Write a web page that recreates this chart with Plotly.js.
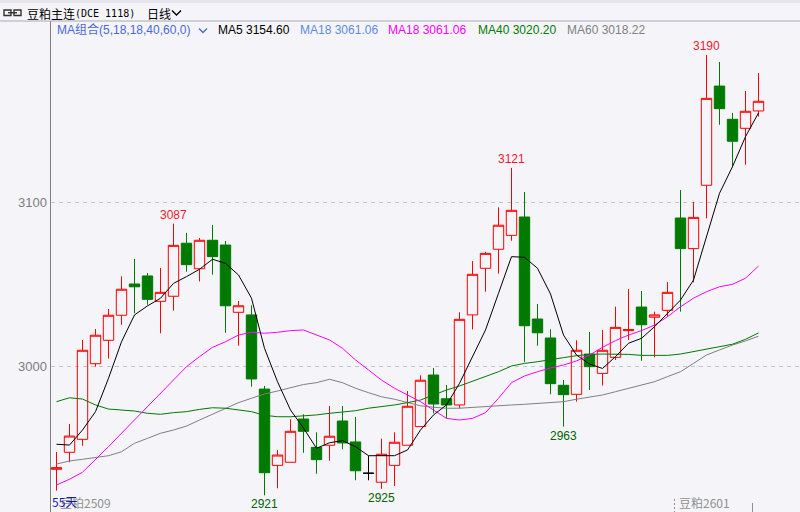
<!DOCTYPE html>
<html><head><meta charset="utf-8">
<script src="https://cdn.plot.ly/plotly-3.0.1.min.js"></script>
<style>html,body{margin:0;padding:0;background:#f5f5f9;} #chart{width:800px;height:512px;}</style>
</head><body><div id="chart"></div>
<script>
// ---- data ----
const open = [2936.9, 2947.3, 2955.2, 3001.4, 3015.7, 3031.0, 3050.1, 3055.0, 3039.5, 3042.6,
  3075.0, 3059.4, 3076.8, 3073.9, 3032.8, 3031.2, 2985.9, 2939.3, 2941.2, 2967.6,
  2950.3, 2951.6, 2966.4, 2953.6, 2934.5, 2929.0, 2939.3, 2951.6, 2963.0, 2994.5,
  2980.0, 2976.2, 3031.2, 3059.7, 3071.3, 3079.8, 3091.0, 3028.7, 3017.1, 2988.2,
  2982.7, 3007.3, 2995.5, 3005.3, 3021.6, 3036.0, 3029.8, 3034.0, 3090.4, 3071.7,
  3110.4, 3171.0, 3150.7, 3145.2, 3155.8];
const high = [2947.5, 2964.6, 3015.9, 3022.6, 3034.8, 3054.8, 3065.4, 3056.8, 3059.9, 3087,
  3081.3, 3078.2, 3086.1, 3076.4, 3039.7, 3037.1, 2987.8, 2948.7, 2967.4, 2970.5,
  2959.5, 2975.6, 2975.6, 2968.8, 2945.2, 2955.6, 2959.5, 2984.7, 2994.3, 2998.8,
  2988.4, 3032.8, 3064.1, 3069.8, 3096.9, 3121, 3106.3, 3037.9, 3022.4, 2991.4,
  3015.7, 3020.8, 3022.0, 3036.2, 3047.0, 3045.8, 3033.2, 3051.3, 3107.5, 3100.2,
  3190, 3185.7, 3154.6, 3168.0, 3179.0];
const low = [2923.8, 2941.2, 2951.3, 2999.6, 3004.5, 3025.2, 3032.2, 3037.4, 3020.0, 3033.8,
  3057.6, 3051.7, 3055.8, 3020.3, 3012.4, 2987.4, 2921, 2925.3, 2941.2, 2947.0,
  2934.2, 2942.1, 2949.1, 2930.2, 2930.2, 2925, 2926.7, 2951.6, 2963.0, 2971.1,
  2968.0, 2974.2, 3022.4, 3045.4, 3056.4, 3076.5, 3002.3, 3012.4, 2982.7, 2963,
  2978.2, 2985.3, 2988.0, 3003.7, 3015.9, 3003.2, 3005.3, 3030.1, 3033.2, 3051.1,
  3090.2, 3147.4, 3121.4, 3123.0, 3152.3];
const close = [2937.9, 2957.2, 3009.6, 3018.8, 3031.0, 3046.9, 3048.4, 3040.7, 3045.0, 3073.7,
  3061.9, 3076.8, 3066.8, 3036.8, 3036.8, 2992.1, 2934.8, 2945.6, 2960.1, 2960.1,
  2942.8, 2957.1, 2953.0, 2936.0, 2934.5, 2946.1, 2953.4, 2975.4, 2991.3, 2976.8,
  2976.2, 3028.5, 3056.0, 3068.8, 3086.0, 3095.1, 3024.6, 3020.3, 2989.2, 2982.5,
  3009.6, 2999.6, 3009.6, 3023.6, 3022.2, 3025.2, 3031.2, 3045.0, 3071.7, 3090.8,
  3163.5, 3157.2, 3137.3, 3155.6, 3161.7];
const ma5 = [2952.2, 2951.7, 2960.9, 2972.1, 2992.5, 3014.8, 3031.2, 3036.7, 3041.4, 3050.5,
  3054.6, 3059.1, 3065.2, 3062.7, 3055.6, 3041.4, 3010.8, 2990.4, 2973.1, 2962.1,
  2949.7, 2953.1, 2954.4, 2950.7, 2945.2, 2945.4, 2945.2, 2948.7, 2960.9, 2970.1,
  2976.2, 2989.4, 3005.7, 3022.0, 3044.4, 3066.8, 3066.4, 3059.7, 3044.0, 3018.9,
  3006.7, 3001.2, 2998.5, 3005.7, 3013.9, 3016.9, 3024.0, 3032.2, 3040.3, 3052.5,
  3079.0, 3105.5, 3121.8, 3140.1, 3154.60];
const ma18 = [2927.3, 2930.8, 2935.1, 2942.6, 2950.7, 2958.9, 2967.0, 2975.1, 2983.3, 2991.4,
  2999.6, 3005.7, 3011.4, 3014.8, 3018.9, 3020.6, 3020.0, 3020.6, 3021.6, 3022.0,
  3018.9, 3015.9, 3010.8, 3003.7, 2997.6, 2991.4, 2986.4, 2982.3, 2978.2, 2973.1,
  2968.0, 2967.0, 2968.0, 2971.5, 2980.3, 2989.8, 2993.9, 2996.5, 2998.8, 3000.6,
  3003.1, 3006.7, 3011.4, 3015.5, 3018.9, 3021.6, 3025.0, 3030.1, 3036.2, 3041.4,
  3045.4, 3048.4, 3049.9, 3053.6, 3061.06];
const ma40 = [2978.2, 2980.6, 2979.8, 2976.2, 2973.7, 2972.9, 2972.5, 2971.1, 2970.5, 2971.5,
  2972.1, 2973.5, 2974.5, 2974.2, 2973.1, 2972.1, 2969.9, 2969.0, 2969.0, 2969.5,
  2970.1, 2971.1, 2972.1, 2972.7, 2974.2, 2975.1, 2976.2, 2977.6, 2979.2, 2982.3,
  2985.3, 2987.8, 2990.8, 2993.5, 2996.5, 3000.0, 3001.6, 3002.6, 3004.0, 3005.1,
  3006.3, 3007.1, 3007.3, 3007.3, 3007.1, 3006.5, 3006.5, 3006.5, 3007.3, 3008.7,
  3010.4, 3011.8, 3013.3, 3016.3, 3020.20];
const ma60 = [2940.1, 2942.0, 2943.0, 2944.2, 2945.2, 2947.6, 2952.8, 2955.8, 2958.9, 2960.9,
  2963.3, 2967.0, 2970.5, 2974.2, 2977.6, 2980.3, 2982.9, 2984.7, 2986.7, 2988.7,
  2989.8, 2991.9, 2989.8, 2986.4, 2983.7, 2981.2, 2979.7, 2977.8, 2975.7, 2974.8,
  2974.2, 2974.2, 2974.8, 2975.1, 2975.7, 2976.2, 2976.6, 2977.2, 2977.4, 2978.2,
  2979.7, 2980.9, 2982.3, 2984.3, 2986.4, 2988.4, 2990.4, 2993.5, 2996.5, 3001.6,
  3006.7, 3009.8, 3012.8, 3015.3, 3018.22];
const highMarks = [9, 35, 50];   // candles whose high is labelled
const lowMarks = [16, 25, 39];   // candles whose low is labelled
const yTicks = [3000, 3100];
const headerName = '豆粕主连';
const headerCode = '(DCE 1118)';
const headerPeriod = '日线';
const maGroupLabel = 'MA组合(5,18,18,40,60,0)';
const dayCountLabel = '55天';
const contractLabels = ['豆粕2509', '豆粕2601'];

// ---- build ----
const dayIndex = open.map((_, i) => i);
const pick = (arr, ids) => ids.map(i => arr[i]);
const dojiIds = dayIndex.filter(i => open[i] === close[i]);
const mainIds = dayIndex.filter(i => open[i] !== close[i]);

const RED = '#ff0000', GREEN = '#007a00';
const BG = '#f5f5f9';
const FONT = 'Liberation Sans, Arial, Noto Sans CJK SC, sans-serif';
const CJK = 'Noto Sans CJK SC, sans-serif';

const traces = [
  {type:'candlestick', x: pick(dayIndex, mainIds), open: pick(open, mainIds), high: pick(high, mainIds),
   low: pick(low, mainIds), close: pick(close, mainIds), whiskerwidth: 0, hoverinfo:'skip',
   increasing:{line:{color:RED, width:1}, fillcolor:'rgba(0,0,0,0)'},
   decreasing:{line:{color:GREEN, width:1}, fillcolor:GREEN}},
  {type:'candlestick', x: pick(dayIndex, dojiIds), open: pick(open, dojiIds), high: pick(high, dojiIds),
   low: pick(low, dojiIds), close: pick(close, dojiIds), whiskerwidth: 0, hoverinfo:'skip',
   increasing:{line:{color:'#000', width:1}, fillcolor:'#000'},
   decreasing:{line:{color:'#000', width:1}, fillcolor:'#000'}},
  {type:'scatter', mode:'lines', x: dayIndex, y: ma60, line:{color:'#808080', width:1}, hoverinfo:'skip'},
  {type:'scatter', mode:'lines', x: dayIndex, y: ma40, line:{color:'#007a00', width:1}, hoverinfo:'skip'},
  {type:'scatter', mode:'lines', x: dayIndex, y: ma18, line:{color:'#ff00ff', width:1}, hoverinfo:'skip'},
  {type:'scatter', mode:'lines', x: dayIndex, y: ma5, line:{color:'#000000', width:1}, hoverinfo:'skip'}
];

const W = 800, H = 512, L = 51, T = 21;
const px = x => (x - L) / (W - L);
const py = y => (H - y) / (H - T);
const last = a => a[a.length - 1];

function txt(x, y, text, color, size, family, xanchor) {
  return {xref:'paper', yref:'paper', x: px(x), y: py(y), text, showarrow:false,
    xanchor: xanchor || 'left', yanchor:'middle', font:{color, size, family}};
}

const annotations = [
  txt(25, 13.5, headerName, '#000', 12, CJK),
  txt(73, 13.5, headerCode, '#000', 10, 'DejaVu Sans Mono, monospace'),
  txt(145, 13.5, headerPeriod, '#000', 12, CJK),
  txt(55, 30, maGroupLabel, '#4a68d8', 12, FONT),
  txt(216, 30, 'MA5 ' + last(ma5).toFixed(2), '#000000', 12, FONT),
  txt(298, 30, 'MA18 ' + last(ma18).toFixed(2), '#5a8ae8', 12, FONT),
  txt(386, 30, 'MA18 ' + last(ma18).toFixed(2), '#ff00ff', 12, FONT),
  txt(476, 30, 'MA40 ' + last(ma40).toFixed(2), '#007a00', 12, FONT),
  txt(565, 30, 'MA60 ' + last(ma60).toFixed(2), '#808080', 12, FONT),
  txt(58, 502.5, contractLabels[0], '#909090', 12, CJK),
  txt(50, 501, dayCountLabel, '#1c1ca8', 12, CJK),
  txt(677, 502.5, contractLabels[1], '#909090', 12, CJK)
];
// y tick labels placed next to the axis
yTicks.forEach(v => annotations.push({xref:'paper', yref:'y', x: px(49), y: v, text: String(v),
  showarrow:false, xanchor:'right', yanchor:'middle', font:{color:'#7c7c84', size:13, family:FONT}}));
highMarks.forEach(i => annotations.push({xref:'x', yref:'y', x: dayIndex[i], y: high[i], text: String(high[i]),
  showarrow:false, yanchor:'bottom', xanchor:'center', yshift:0, font:{color:'#f01830', size:12, family:FONT}}));
lowMarks.forEach(i => annotations.push({xref:'x', yref:'y', x: dayIndex[i], y: low[i], text: String(low[i]),
  showarrow:false, yanchor:'top', xanchor:'center', yshift:0, font:{color:'#006400', size:12, family:FONT}}));

const shapes = [
  {type:'rect', xref:'paper', yref:'paper', x0: px(0), x1: px(800), y0: py(0), y1: py(3), fillcolor:'#e4e4ea', line:{width:0}},
  {type:'line', xref:'paper', yref:'paper', x0: px(0), x1: px(800), y0: py(21), y1: py(21), line:{color:'#a8a8b0', width:1}},
  {type:'rect', xref:'paper', yref:'paper', x0: px(4), x1: px(11), y0: py(10), y1: py(15.5), line:{color:'#333', width:1.4}},
  {type:'rect', xref:'paper', yref:'paper', x0: px(14), x1: px(21), y0: py(10), y1: py(15.5), line:{color:'#333', width:1.4}},
  {type:'line', xref:'paper', yref:'paper', x0: px(8), x1: px(17), y0: py(12.75), y1: py(12.75), line:{color:'#333', width:1.4}},
  {type:'path', xref:'paper', yref:'paper', path:`M ${px(172)} ${py(10.5)} L ${px(176.5)} ${py(15)} L ${px(181)} ${py(10.5)}`, line:{color:'#000', width:1.4}},
  {type:'path', xref:'paper', yref:'paper', path:`M ${px(199)} ${py(28.5)} L ${px(203)} ${py(32.5)} L ${px(207)} ${py(28.5)}`, line:{color:'#4a68d8', width:1.4}},
  {type:'line', xref:'paper', yref:'paper', x0: px(674.5), x1: px(674.5), y0: py(499), y1: py(512), line:{color:'#909090', width:1, dash:'2px,2px'}},
  {type:'line', xref:'paper', yref:'paper', x0: px(752.5), x1: px(752.5), y0: py(503), y1: py(512), line:{color:'#909090', width:1}}
];

const layout = {
  width: W, height: H, margin:{l:L, r:0, t:T, b:0, pad:0},
  paper_bgcolor: BG, plot_bgcolor: BG, showlegend:false, hovermode:false, dragmode:false,
  boxgap: 0.2, boxgroupgap: 0,
  xaxis:{range:[-0.42308, 57.1923], showgrid:false, zeroline:false, showticklabels:false, showline:false,
    fixedrange:true, rangeslider:{visible:false}},
  yaxis:{range:[2910.81, 3210.75], tickvals: yTicks, showticklabels:false, showgrid:true,
    gridcolor:'#c4c4c8', griddash:'4px,4px', gridwidth:1, zeroline:false, showline:true, linecolor:'#808080',
    linewidth:1, ticks:'', fixedrange:true},
  annotations, shapes
};

Plotly.newPlot('chart', traces, layout, {staticPlot:true, displayModeBar:false});
</script></body></html>
